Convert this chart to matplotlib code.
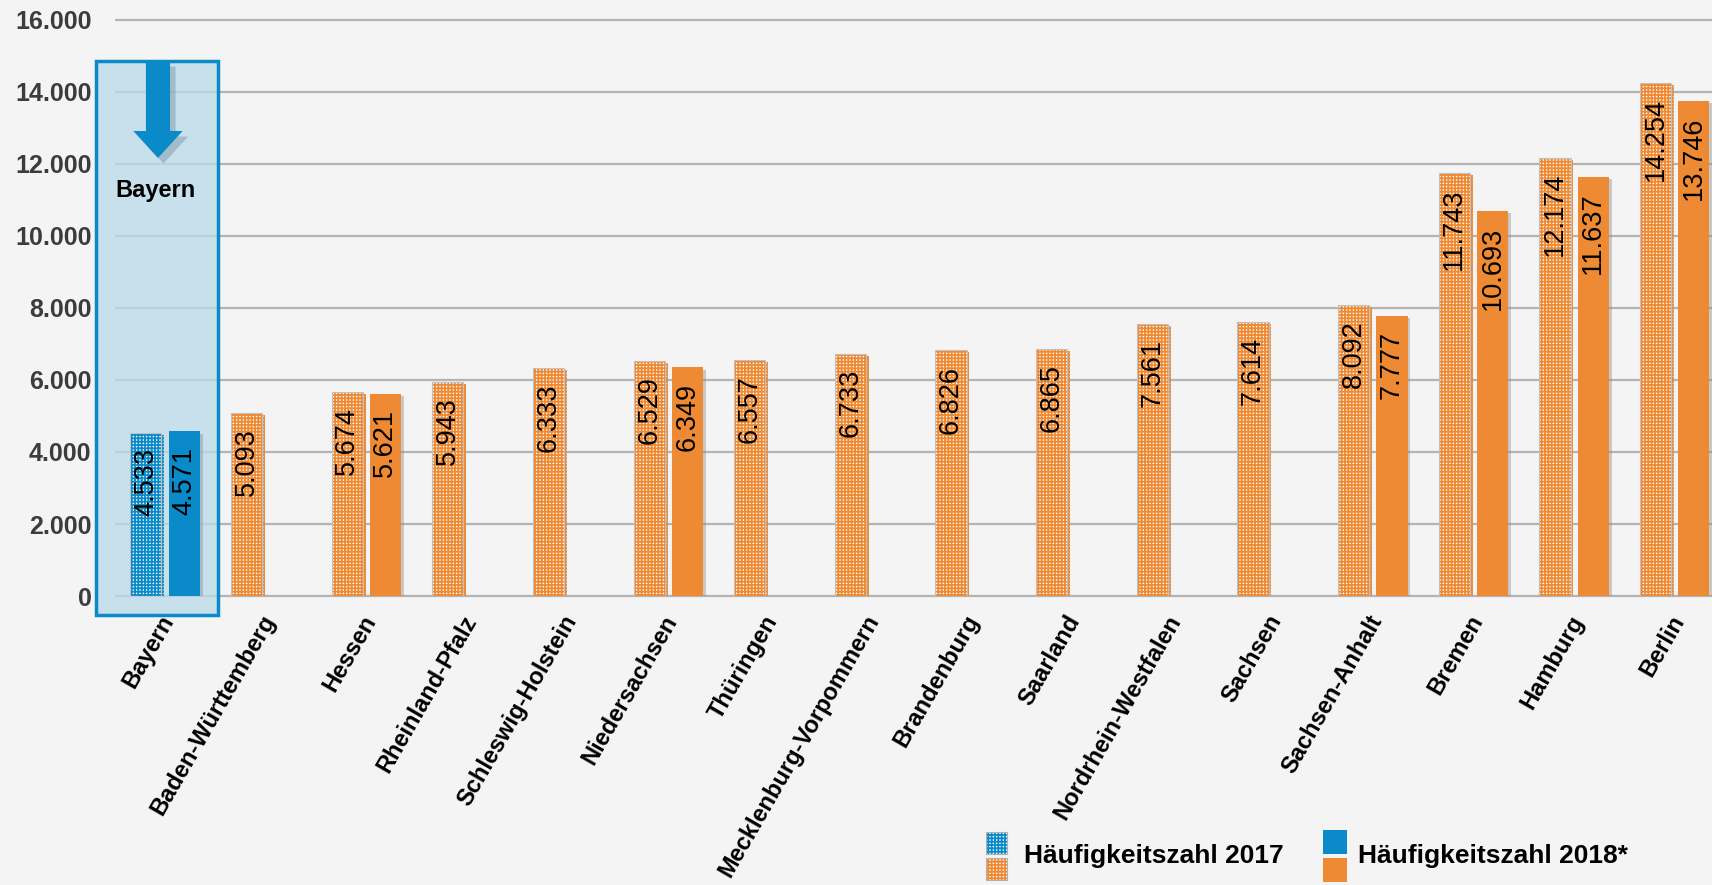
import matplotlib
matplotlib.use('Agg')
import matplotlib.pyplot as plt
import matplotlib.patheffects as pe
import matplotlib.transforms as mtransforms
from matplotlib.patches import Rectangle, Polygon
import numpy as np

# ---------------- data ----------------
states = ['Bayern', 'Baden-Württemberg', 'Hessen', 'Rheinland-Pfalz', 'Schleswig-Holstein',
          'Niedersachsen', 'Thüringen', 'Mecklenburg-Vorpommern', 'Brandenburg', 'Saarland',
          'Nordrhein-Westfalen', 'Sachsen', 'Sachsen-Anhalt', 'Bremen', 'Hamburg', 'Berlin']
hz2017 = [4533, 5093, 5674, 5943, 6333, 6529, 6557, 6733, 6826, 6865, 7561, 7614, 8092,
          11743, 12174, 14254]
hz2018 = [4571, None, 5621, None, None, 6349, None, None, None, None, None, None, 7777,
          10693, 11637, 13746]
yticks = [0, 2000, 4000, 6000, 8000, 10000, 12000, 14000, 16000]
ytick_labels = ['0', '2.000', '4.000', '6.000', '8.000', '10.000', '12.000', '14.000', '16.000']
highlight = 'Bayern'
legend_labels = ['Häufigkeitszahl 2017', 'Häufigkeitszahl 2018*']

# ---------------- style ----------------
plt.rcParams['font.family'] = ['Liberation Sans', 'DejaVu Sans']
plt.rcParams['hatch.linewidth'] = 1.3

BG = '#f4f4f4'
ORANGE = '#ee8a33'
BLUE = '#0a8ac8'
GRID = '#b4b4b4'
BOXFILL = '#bbdbeb'

W, H = 1712, 885
fig = plt.figure(figsize=(W / 100, H / 100), dpi=100, facecolor=BG)
ax = fig.add_axes([115 / W, 1 - 596 / H, (W - 115) / W, (596 - 20) / H])
ax.set_facecolor(BG)
ax.set_xlim(-0.497, 15.37)
ax.set_ylim(0, 16000)
for s in ax.spines.values():
    s.set_visible(False)

# gridlines (including zero line)
ax.hlines(yticks, -0.497, 15.37, colors=GRID, lw=1.6, zorder=0.5, clip_on=False)

ax.set_yticks(yticks)
ax.set_yticklabels(ytick_labels, fontweight='bold')
ax.tick_params(axis='y', length=0, pad=17, labelsize=18, labelcolor='#3c3c3c')

x = np.arange(len(states))
ax.set_xticks(x)
ax.set_xticklabels(states, rotation=60, ha='right', va='center',
                   rotation_mode='anchor', fontweight='bold')
ax.tick_params(axis='x', length=0, pad=15, labelsize=17, labelcolor='black')
off = mtransforms.ScaledTranslation(4 / 100, 0, fig.dpi_scale_trans)
for lab in ax.get_xticklabels():
    lab.set_transform(lab.get_transform() + off)

# highlight box for Bayern
hi = states.index(highlight)
bx0, bx1 = hi - 0.686, hi + 0.527
by0, by1 = -528, 14861
ax.add_patch(Rectangle((bx0, by0), bx1 - bx0, by1 - by0, facecolor=BOXFILL,
                       edgecolor='none', alpha=0.78, zorder=1, clip_on=False))
ax.add_patch(Rectangle((bx0, by0), bx1 - bx0, by1 - by0, facecolor='none',
                       edgecolor=BLUE, lw=2.5, zorder=4, clip_on=False))
# arrow
acx = hi - 0.07
shaft, head = 0.12, 0.245
arrow = Polygon([(acx - shaft, by1), (acx + shaft, by1), (acx + shaft, 12917),
                 (acx + head, 12917), (acx, 12167), (acx - head, 12917),
                 (acx - shaft, 12917)], closed=True, facecolor=BLUE, edgecolor='none',
                zorder=4, clip_on=False,
                path_effects=[pe.SimplePatchShadow(offset=(4, -4), shadow_rgbFace='#6a8a9a',
                                                   alpha=0.4), pe.Normal()])
ax.add_patch(arrow)
ax.text(hi - 0.09, 11250, highlight, ha='center', va='center', fontsize=17,
        fontweight='bold', color='black', zorder=5)

# bars
bw = 0.31
dx = 0.19
shadow = [pe.SimplePatchShadow(offset=(2, -1.5), shadow_rgbFace='#888888', alpha=0.4),
          pe.Normal()]


def fmt(v):
    return f"{v:,}".replace(',', '.')


for i, (a, b) in enumerate(zip(hz2017, hz2018)):
    col = BLUE if states[i] == highlight else ORANGE
    # 2017 (patterned)
    ax.bar(x[i] - dx, a, bw, color='white', edgecolor=col, hatch='+++++', lw=0,
           zorder=3, path_effects=shadow)
    ax.bar(x[i] - dx, a, bw, fill=False, edgecolor='#c0c0c0', lw=0.8, zorder=3.1)
    ax.annotate(fmt(a), (x[i] - dx, a), xytext=(0, -11), textcoords='offset points',
                rotation=90, ha='center', va='top', fontsize=19.5, color='black', zorder=6)
    if b is not None:
        ax.bar(x[i] + dx, b, bw, color=col, edgecolor='none', lw=0, zorder=3,
               path_effects=shadow)
        ax.annotate(fmt(b), (x[i] + dx, b), xytext=(0, -11), textcoords='offset points',
                    rotation=90, ha='center', va='top', fontsize=19.5, color='black', zorder=6)


# legend (figure pixel coordinates)
def fr(px, py):
    return px / W, 1 - py / H


def leg_patch(x0, y0, x1, y1, color, hatched):
    xa, ya = fr(x0, y1)
    w, h = (x1 - x0) / W, (y1 - y0) / H
    if hatched:
        fig.patches.append(Rectangle((xa, ya), w, h, transform=fig.transFigure,
                                     facecolor='white', edgecolor=color, hatch='+++++',
                                     lw=0))
        fig.patches.append(Rectangle((xa, ya), w, h, transform=fig.transFigure,
                                     fill=False, edgecolor='#b0b0b0', lw=0.8))
    else:
        fig.patches.append(Rectangle((xa, ya), w, h, transform=fig.transFigure,
                                     facecolor=color, edgecolor='none', lw=0))


leg_patch(986, 832, 1007, 854, BLUE, True)
leg_patch(986, 858, 1007, 880, ORANGE, True)
leg_patch(1323, 830, 1347, 854, BLUE, False)
leg_patch(1323, 858, 1347, 882, ORANGE, False)
fig.text(*fr(1024, 856), legend_labels[0], ha='left', va='center', fontsize=19,
         fontweight='bold', color='black')
fig.text(*fr(1358, 856), legend_labels[1], ha='left', va='center', fontsize=19,
         fontweight='bold', color='black')

fig.savefig('out.png', dpi=100, facecolor=BG)
